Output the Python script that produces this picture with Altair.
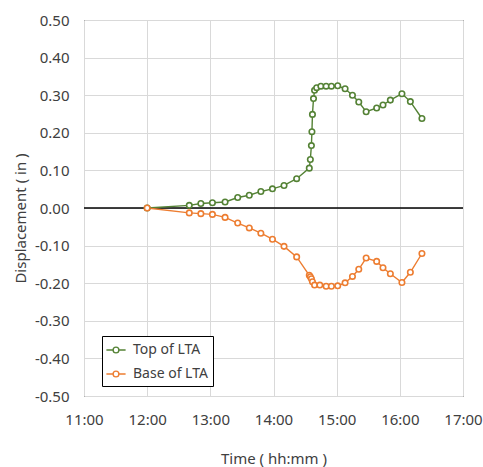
import altair as alt
import pandas as pd

series_names = ["Top of LTA", "Base of LTA"]
series_colors = ["#548235", "#ED7D31"]

top_times = ["12:00", "12:40", "12:51", "13:02", "13:14", "13:26", "13:37", "13:48",
             "13:59", "14:10", "14:22", "14:34", "14:35", "14:36", "14:36:30", "14:37",
             "14:38", "14:39", "14:41", "14:45", "14:50", "14:55", "15:01", "15:08",
             "15:15", "15:21", "15:28", "15:38", "15:44", "15:51", "16:02", "16:10", "16:21"]
top_values = [0.000, 0.007, 0.012, 0.014, 0.016, 0.028, 0.034, 0.044,
              0.051, 0.060, 0.078, 0.106, 0.129, 0.166, 0.203, 0.249,
              0.291, 0.313, 0.320, 0.324, 0.324, 0.324, 0.325, 0.317,
              0.300, 0.282, 0.256, 0.266, 0.274, 0.287, 0.304, 0.283, 0.238]

base_times = ["12:00", "12:40", "12:51", "13:02", "13:14", "13:26", "13:37", "13:48",
              "13:59", "14:10", "14:22", "14:34", "14:35", "14:36", "14:37", "14:39",
              "14:44", "14:50", "14:55", "15:01", "15:08", "15:15", "15:21", "15:28",
              "15:38", "15:44", "15:51", "16:02", "16:10", "16:21"]
base_values = [0.000, -0.013, -0.015, -0.017, -0.025, -0.040, -0.053, -0.067,
               -0.083, -0.102, -0.130, -0.179, -0.183, -0.188, -0.196, -0.205,
               -0.205, -0.208, -0.208, -0.207, -0.199, -0.182, -0.163, -0.133,
               -0.142, -0.159, -0.175, -0.198, -0.171, -0.121]

x_ticks = [11, 12, 13, 14, 15, 16, 17]
y_ticks = [round(i * 0.1, 1) for i in range(-5, 6)]


def to_hours(t):
    parts = [int(p) for p in t.split(":")]
    while len(parts) < 3:
        parts.append(0)
    return parts[0] + parts[1] / 60 + parts[2] / 3600


rows = []
for name, times, vals in [(series_names[0], top_times, top_values),
                          (series_names[1], base_times, base_values)]:
    for i, (t, v) in enumerate(zip(times, vals)):
        rows.append({"series": name, "hours": to_hours(t), "value": v, "idx": i})
df = pd.DataFrame(rows)

FONT = "Noto Sans"
TXT = "#404040"

legend_path = ("M-1.2,0L-0.38,0M0.38,0L1.2,0"
               "M-0.36,0A0.36,0.36 0 1,0 0.36,0A0.36,0.36 0 1,0 -0.36,0Z")

color = alt.Color(
    "series:N",
    scale=alt.Scale(domain=series_names, range=series_colors),
    legend=alt.Legend(
        title=None, orient="none", legendX=18, legendY=316, direction="vertical",
        fillColor="white", strokeColor="black", padding=5, rowPadding=8,
        labelFont=FONT, labelFontSize=14, labelColor=TXT, labelOffset=8,
        symbolType=legend_path, symbolSize=256, symbolStrokeWidth=1.4,
        symbolFillColor="white",
    ),
)

x = alt.X(
    "hours:Q",
    scale=alt.Scale(domain=[11, 17], nice=False, zero=False),
    axis=alt.Axis(
        values=x_ticks, labelExpr="datum.value + ':00'", title="Time ( hh:mm )",
        domain=False, ticks=False, grid=True, gridColor="#d9d9d9",
        labelOverlap=False, labelFlush=False, labelBound=False,
        labelFont=FONT, labelFontSize=15, labelColor=TXT, labelPadding=16,
        titleFont=FONT, titleFontSize=15, titleColor=TXT, titleFontWeight="normal",
        titleY=67, titleBaseline="alphabetic",
    ),
)

y_scale = alt.Scale(domain=[-0.5, 0.5], nice=False)
y_axis = alt.Axis(
    values=y_ticks,
    labelExpr="(datum.value < -0.0001 ? '-' : '') + format(abs(datum.value), '.2f')",
    title="Displacement ( in )",
    domain=False, ticks=False, grid=True, gridColor="#d9d9d9",
    labelOverlap=False, labelFlush=False, labelBound=False,
    labelFont=FONT, labelFontSize=15, labelColor=TXT, labelPadding=15,
    titleFont=FONT, titleFontSize=15, titleColor=TXT, titleFontWeight="normal",
    titleX=-64, titleY=198, titleBaseline="middle", titleAngle=-90,
)

zero = alt.Chart(pd.DataFrame({"value": [0.0]})).mark_rule(color="black", strokeWidth=1.6).encode(
    y=alt.Y("value:Q", scale=y_scale, axis=y_axis)
)

base = alt.Chart(df).encode(
    x=x, y=alt.Y("value:Q", scale=y_scale, axis=y_axis), color=color, order="idx:Q"
)
lines = base.mark_line(strokeWidth=1.4)
points = base.mark_point(shape="circle", size=30, filled=False, fill="white",
                         fillOpacity=1, strokeWidth=1.6, opacity=1)

chart = alt.layer(zero, lines, points).properties(
    width=379, height=376,
    autosize=alt.AutoSizeParams(type="none"),
    padding={"left": 84, "top": 20, "right": 20, "bottom": 71},
    background="white",
).configure_view(stroke="black", strokeWidth=1)

chart.save("out.html", embed_options={"renderer": "svg", "actions": False})
